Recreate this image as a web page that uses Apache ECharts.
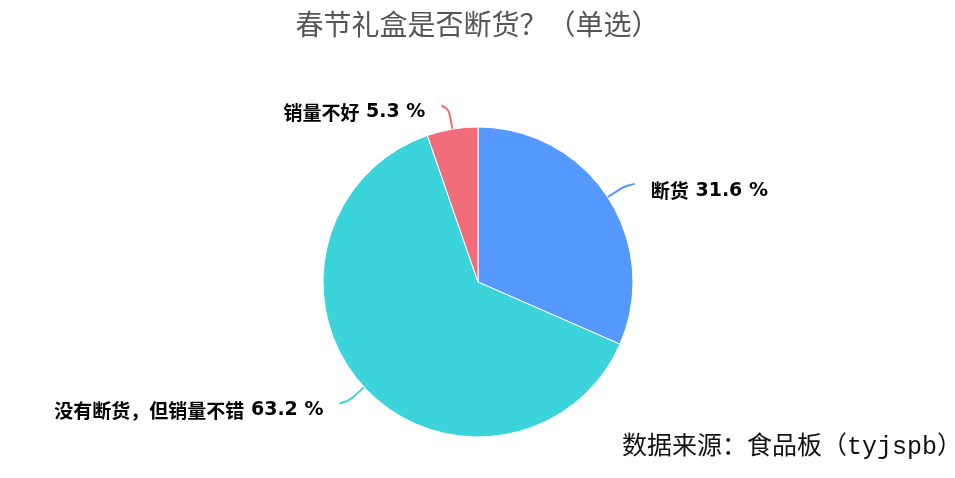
<!DOCTYPE html>
<html><head><meta charset="utf-8">
<script src="https://cdn.jsdelivr.net/npm/echarts@6/dist/echarts.min.js"></script>
<style>html,body{margin:0;padding:0;background:#fff}#c{width:955px;height:478px}</style>
</head><body><div id="c"></div>
<script>
var categories = ['断货', '没有断货，但销量不错', '销量不好'];
var values = [31.6, 63.2, 5.3];
var colors = ['#5599ff', '#3bd4da', '#f16d7a'];
var titleText = '春节礼盒是否断货？（单选）';
var sourceText = '数据来源：食品板（tyjspb）';

var chart = echarts.init(document.getElementById('c'));
chart.setOption({
  animation: false,
  color: colors,
  title: [{
    text: titleText, left: 'center', top: 5,
    textStyle: {color: '#555', fontSize: 28, fontWeight: 'normal', fontFamily: 'Noto Sans CJK SC'}
  }, {
    text: sourceText, right: -7, top: 435, padding: 0,
    textStyle: {color: '#111', fontSize: 25, fontWeight: 'normal', fontFamily: "'Liberation Mono', 'Noto Sans CJK SC'"}
  }],
  series: [{
    type: 'pie',
    center: [478, 282],
    radius: [0, 155],
    startAngle: 90,
    data: categories.map(function (c, i) { return {name: c, value: values[i]}; }),
    label: {
      formatter: function (p) { return '{n|' + p.name + '}{v| ' + p.value + ' %}'; },
      distanceToLabelLine: 16,
      padding: [14, 0, 0, 0],
      rich: {
        n: {color: '#000', fontSize: 19, fontWeight: 'bold', fontFamily: 'Noto Sans CJK SC'},
        v: {color: '#000', fontSize: 19, fontWeight: 'bold', fontFamily: 'DejaVu Sans'}
      }
    },
    labelLine: {length: 24, length2: 7, smooth: 0.8, lineStyle: {width: 2}},
    itemStyle: {borderColor: '#fff', borderWidth: 1}
  }]
});
</script></body></html>
